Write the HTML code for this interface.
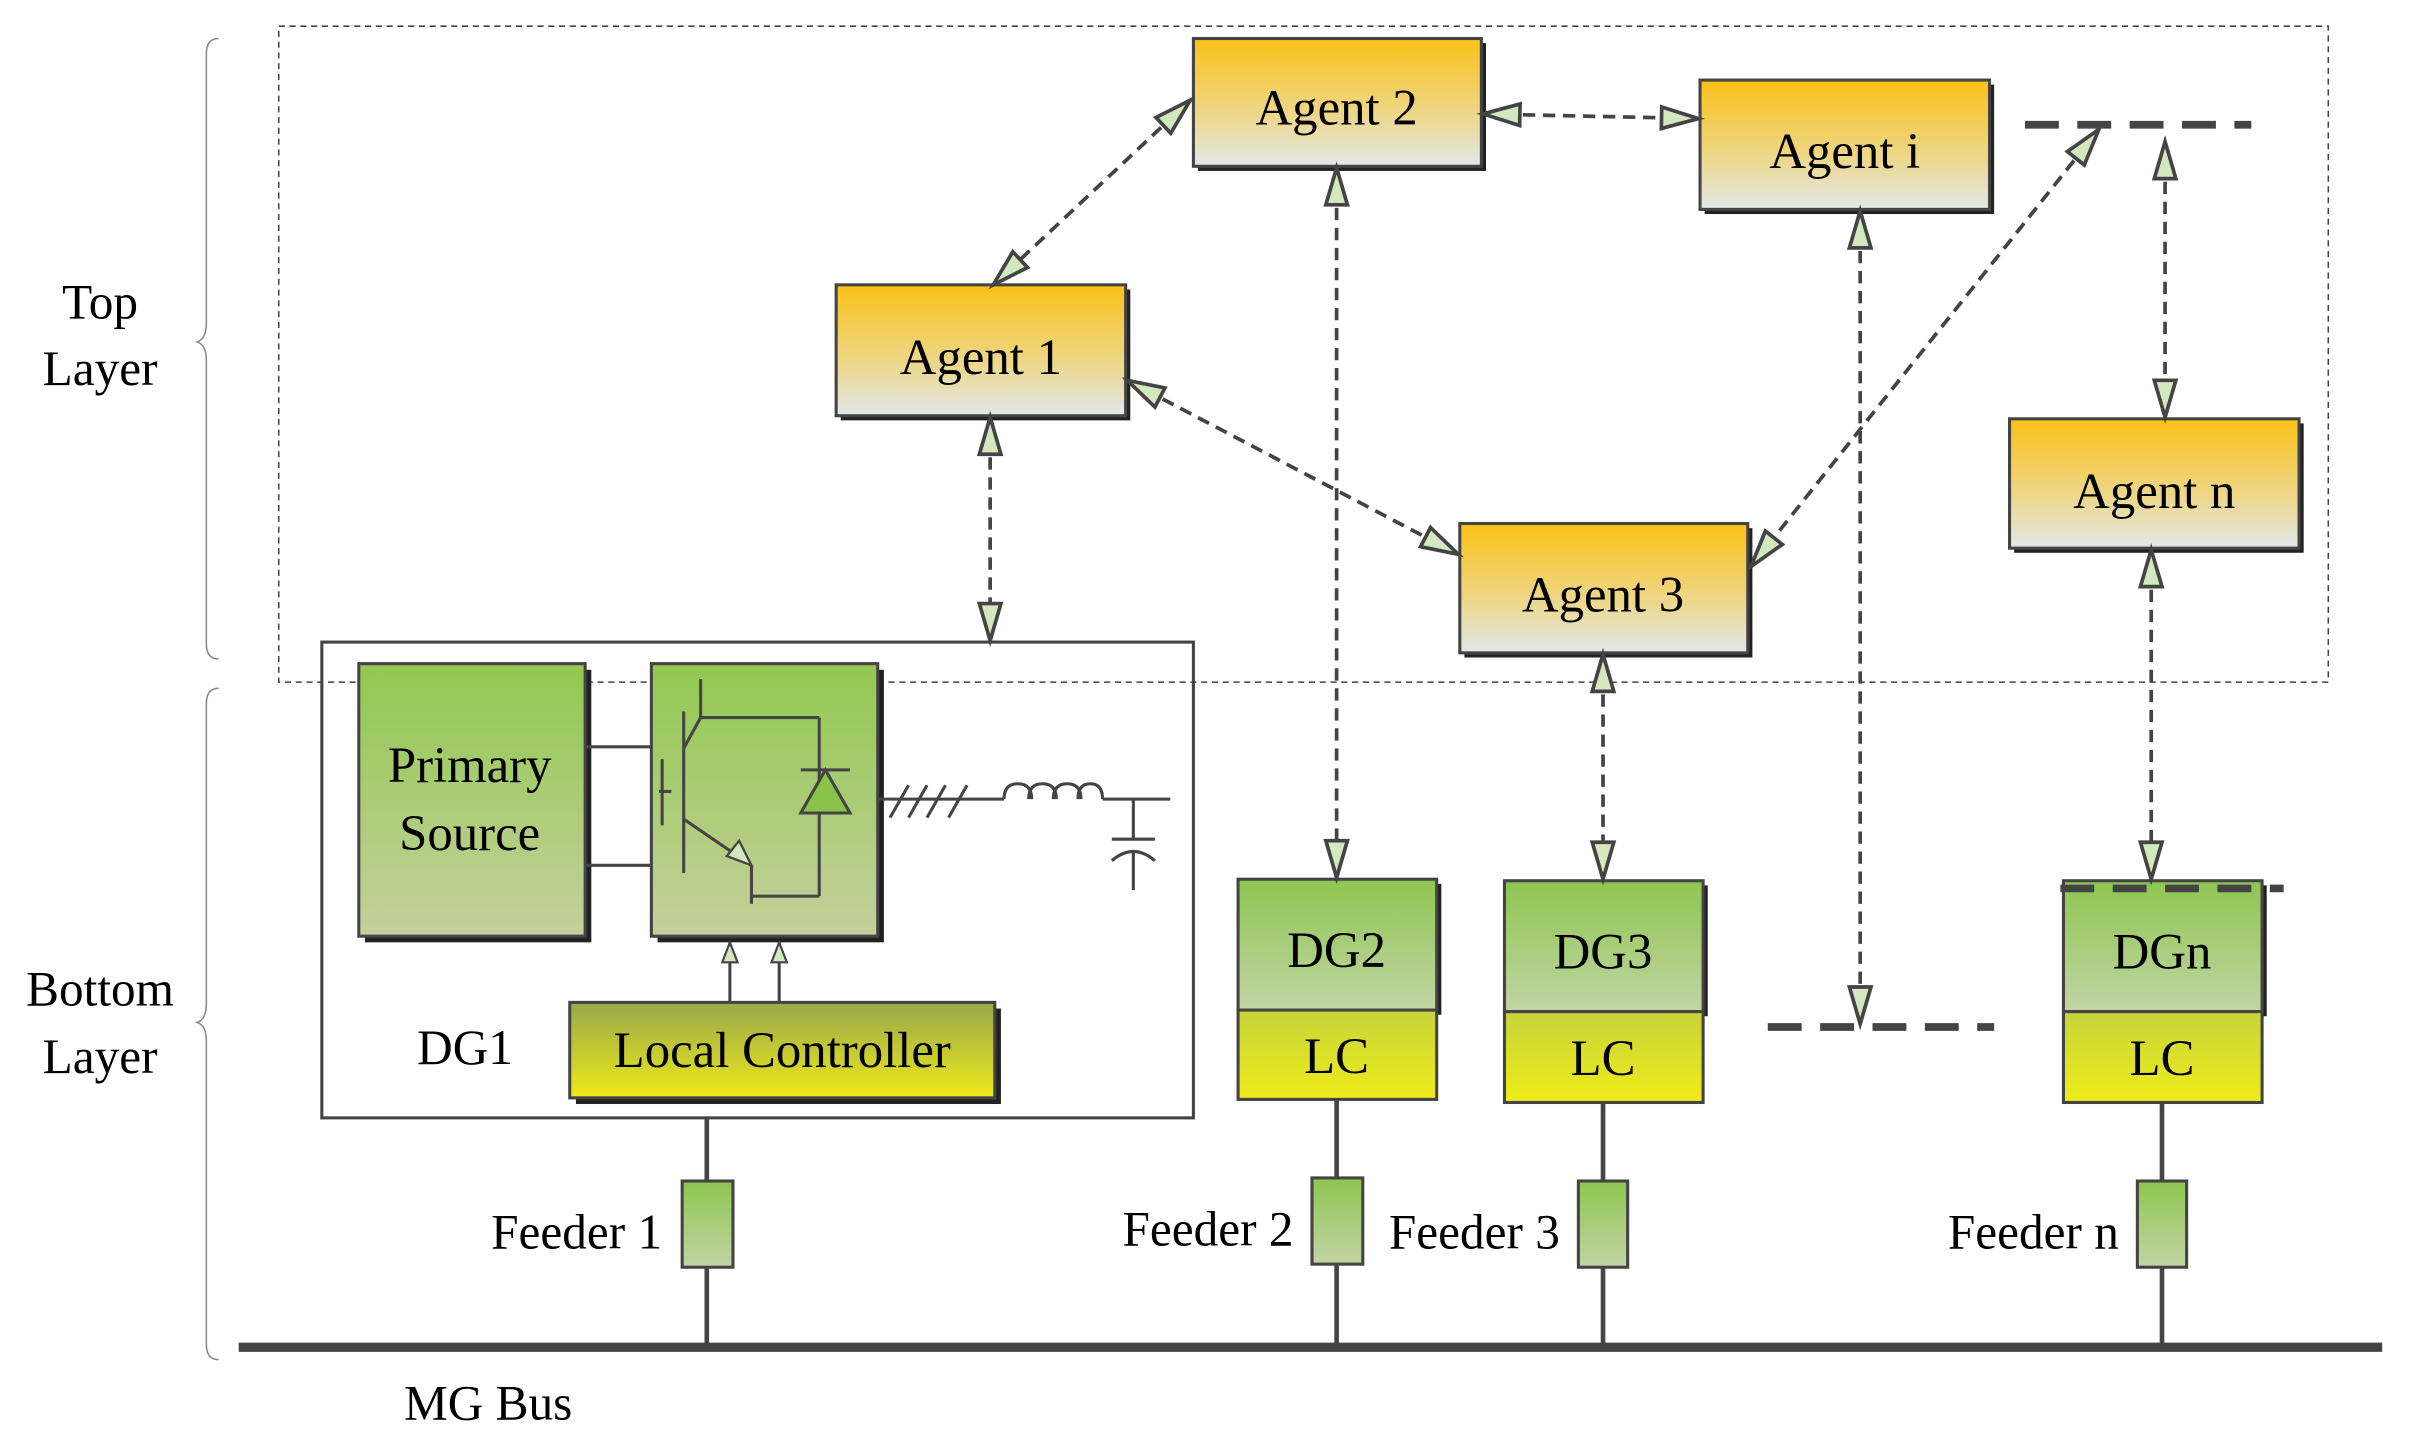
<!DOCTYPE html>
<html><head><meta charset="utf-8"><style>
html,body{margin:0;padding:0;background:#fff;}
svg{display:block;}
text{font-family:"Liberation Serif",serif;fill:#000;}
</style></head><body>
<svg width="2413" height="1450" viewBox="0 0 1567 941.7" preserveAspectRatio="none" xmlns="http://www.w3.org/2000/svg">
<defs>
<linearGradient id="ag" x1="0" y1="0" x2="0" y2="1"><stop offset="0" stop-color="#FBC116"/><stop offset="0.6" stop-color="#EDD78A"/><stop offset="1" stop-color="#E2E8EA"/></linearGradient>
<linearGradient id="gg" x1="0" y1="0" x2="0" y2="1"><stop offset="0" stop-color="#92C850"/><stop offset="1" stop-color="#C4D09C"/></linearGradient>
<linearGradient id="yg" x1="0" y1="0" x2="0" y2="1"><stop offset="0" stop-color="#98A84A"/><stop offset="1" stop-color="#F0EA1C"/></linearGradient>
<linearGradient id="dg" x1="0" y1="0" x2="0" y2="1"><stop offset="0" stop-color="#8EC650"/><stop offset="1" stop-color="#C2D4A4"/></linearGradient>
<linearGradient id="lg" x1="0" y1="0" x2="0" y2="1"><stop offset="0" stop-color="#C6D43A"/><stop offset="1" stop-color="#F0EC1A"/></linearGradient>
<marker id="ah" markerUnits="userSpaceOnUse" markerWidth="34" markerHeight="24" refX="26" refY="10" orient="auto-start-reverse" viewBox="0 0 34 20">
<polygon points="2,3 26,10 2,17" fill="#D4E8C0" stroke="#444" stroke-width="2.4" stroke-linejoin="miter"/>
</marker>
<marker id="sh" markerUnits="userSpaceOnUse" markerWidth="20" markerHeight="14" refX="14" refY="6" orient="auto" viewBox="0 0 20 12">
<polygon points="1,1 14,6 1,11" fill="#D4E8C0" stroke="#444" stroke-width="1.4"/>
</marker>
</defs>

<rect x="181" y="17" width="1331" height="426" fill="none" stroke="#444" stroke-width="1" stroke-dasharray="4 3"/>

<path d="M142 25 Q134 25 134 35 L134 210 Q134 220 128 222 Q134 224 134 234 L134 418 Q134 428 142 428" fill="none" stroke="#888" stroke-width="1"/>
<path d="M142 447 Q134 447 134 457 L134 652 Q134 662 128 664 Q134 666 134 676 L134 873 Q134 883 142 883" fill="none" stroke="#888" stroke-width="1"/>
<text x="65" y="207" font-size="32" text-anchor="middle">Top</text>
<text x="65" y="250" font-size="32" text-anchor="middle">Layer</text>
<text x="65" y="653" font-size="32" text-anchor="middle">Bottom</text>
<text x="65" y="697" font-size="32" text-anchor="middle">Layer</text>

<line x1="155" y1="875" x2="1547" y2="875" stroke="#444" stroke-width="6"/>
<text x="317" y="922" font-size="32" text-anchor="middle">MG Bus</text>

<g stroke="#444" stroke-width="3">
<line x1="459" y1="726" x2="459" y2="875"/>
<line x1="868" y1="714" x2="868" y2="875"/>
<line x1="1041" y1="716" x2="1041" y2="875"/>
<line x1="1404" y1="716" x2="1404" y2="875"/>
</g>
<g stroke="#444" stroke-width="2" fill="url(#dg)">
<rect x="443" y="767" width="33" height="56"/>
<rect x="852" y="765" width="33" height="56"/>
<rect x="1025" y="767" width="32" height="56"/>
<rect x="1388" y="767" width="32" height="56"/>
</g>
<text x="430" y="811" font-size="32" text-anchor="end">Feeder 1</text>
<text x="840" y="809" font-size="32" text-anchor="end">Feeder 2</text>
<text x="1013" y="811" font-size="32" text-anchor="end">Feeder 3</text>
<text x="1376" y="811" font-size="32" text-anchor="end">Feeder n</text>

<rect x="209" y="417" width="566" height="309" fill="none" stroke="#444" stroke-width="2"/>
<g fill="#222">
<rect x="237" y="435" width="147" height="177"/>
<rect x="427" y="435" width="147" height="177"/>
<rect x="374" y="655" width="276" height="62"/>
</g>
<rect x="233" y="431" width="147" height="177" fill="url(#gg)" stroke="#444" stroke-width="2"/>
<rect x="423" y="431" width="147" height="177" fill="url(#gg)" stroke="#444" stroke-width="2"/>
<rect x="370" y="651" width="276" height="62" fill="url(#yg)" stroke="#444" stroke-width="2"/>
<text x="305" y="508" font-size="33" text-anchor="middle">Primary</text>
<text x="305" y="552" font-size="33" text-anchor="middle">Source</text>
<text x="508" y="693" font-size="33" text-anchor="middle">Local Controller</text>
<text x="302" y="691" font-size="32" text-anchor="middle">DG1</text>
<g stroke="#444" stroke-width="2" fill="none">
<line x1="380" y1="485" x2="423" y2="485"/>
<line x1="380" y1="562" x2="423" y2="562"/>
<line x1="430" y1="493" x2="430" y2="536"/>
<line x1="428" y1="514" x2="436" y2="514"/>
<line x1="444" y1="462" x2="444" y2="567"/>
<line x1="444" y1="486" x2="455" y2="466"/>
<line x1="455" y1="441" x2="455" y2="466"/>
<line x1="455" y1="466" x2="532" y2="466"/>
<line x1="532" y1="466" x2="532" y2="582"/>
<line x1="444" y1="532" x2="488" y2="562"/>
<line x1="488" y1="562" x2="488" y2="587"/>
<line x1="488" y1="582" x2="532" y2="582"/>
<line x1="520" y1="500" x2="552" y2="500"/>
</g>
<polygon points="536,500 520,528 552,528" fill="#8BC34A" stroke="#444" stroke-width="2"/>
<polygon points="488,562 472,556 480,546" fill="#D4E8C0" stroke="#444" stroke-width="1.5"/>
<g stroke="#444" stroke-width="2" fill="none">
<line x1="570" y1="519" x2="652" y2="519"/>
<line x1="578" y1="531" x2="590" y2="510"/>
<line x1="590" y1="531" x2="602" y2="510"/>
<line x1="602" y1="531" x2="614" y2="510"/>
<line x1="616" y1="531" x2="628" y2="510"/>
<path d="M652 519 Q652 509 661 509 Q670 509 670 519 M668 519 Q668 509 677 509 Q686 509 686 519 M684 519 Q684 509 693 509 Q702 509 702 519 M700 519 Q700 509 708 509 Q716 509 716 519"/>
<line x1="716" y1="519" x2="760" y2="519"/>
<line x1="736" y1="519" x2="736" y2="545"/>
<line x1="722" y1="545" x2="750" y2="545"/>
<path d="M722 559 Q736 547 750 559"/>
<line x1="736" y1="552" x2="736" y2="578"/>
</g>
<g stroke="#444" stroke-width="2">
<line x1="474" y1="651" x2="474" y2="612" marker-end="url(#sh)"/>
<line x1="506" y1="651" x2="506" y2="612" marker-end="url(#sh)"/>
</g>

<g fill="#222">
<rect x="807" y="574" width="129" height="85"/>
<rect x="980" y="575" width="129" height="85"/>
<rect x="1343" y="575" width="129" height="85"/>
</g>
<g stroke="#444" stroke-width="2">
<rect x="804" y="571" width="129" height="85" fill="url(#dg)"/>
<rect x="804" y="656" width="129" height="58" fill="url(#lg)"/>
<rect x="977" y="572" width="129" height="85" fill="url(#dg)"/>
<rect x="977" y="657" width="129" height="59" fill="url(#lg)"/>
<rect x="1340" y="572" width="129" height="85" fill="url(#dg)"/>
<rect x="1340" y="657" width="129" height="59" fill="url(#lg)"/>
</g>
<text x="868" y="628" font-size="33" text-anchor="middle">DG2</text>
<text x="868" y="697" font-size="33" text-anchor="middle">LC</text>
<text x="1041" y="629" font-size="33" text-anchor="middle">DG3</text>
<text x="1041" y="698" font-size="33" text-anchor="middle">LC</text>
<text x="1404" y="629" font-size="33" text-anchor="middle">DGn</text>
<text x="1404" y="698" font-size="33" text-anchor="middle">LC</text>

<g stroke="#444" stroke-width="5" stroke-dasharray="22 12">
<line x1="1315" y1="81" x2="1462" y2="81"/>
<line x1="1148" y1="667" x2="1295" y2="667"/>
<line x1="1338" y1="577" x2="1483" y2="577"/>
</g>

<g fill="#222">
<rect x="778" y="28" width="187" height="83"/>
<rect x="1107" y="55" width="188" height="84"/>
<rect x="546" y="188" width="188" height="85"/>
<rect x="951" y="343" width="187" height="84"/>
<rect x="1308" y="275" width="188" height="84"/>
</g>
<g stroke="#444" stroke-width="2" fill="url(#ag)">
<rect x="775" y="25" width="187" height="83"/>
<rect x="1104" y="52" width="188" height="84"/>
<rect x="543" y="185" width="188" height="85"/>
<rect x="948" y="340" width="187" height="84"/>
<rect x="1305" y="272" width="188" height="84"/>
</g>
<text x="868" y="81" font-size="33" text-anchor="middle">Agent 2</text>
<text x="1198" y="109" font-size="33" text-anchor="middle">Agent i</text>
<text x="637" y="243" font-size="33" text-anchor="middle">Agent 1</text>
<text x="1041" y="397" font-size="33" text-anchor="middle">Agent 3</text>
<text x="1399" y="330" font-size="33" text-anchor="middle">Agent n</text>

<g stroke="#444" stroke-width="2.4" stroke-dasharray="8 5" fill="none" marker-start="url(#ah)" marker-end="url(#ah)">
<line x1="773" y1="65" x2="645" y2="185"/>
<line x1="963" y1="74" x2="1103" y2="77"/>
<line x1="868" y1="109" x2="868" y2="570"/>
<line x1="1208" y1="137" x2="1208" y2="665"/>
<line x1="1363" y1="84" x2="1137" y2="368"/>
<line x1="1406" y1="92" x2="1406" y2="271"/>
<line x1="732" y1="247" x2="947" y2="360"/>
<line x1="643" y1="271" x2="643" y2="416"/>
<line x1="1041" y1="425" x2="1041" y2="571"/>
<line x1="1397" y1="357" x2="1397" y2="571"/>
</g>
</svg>
</body></html>
